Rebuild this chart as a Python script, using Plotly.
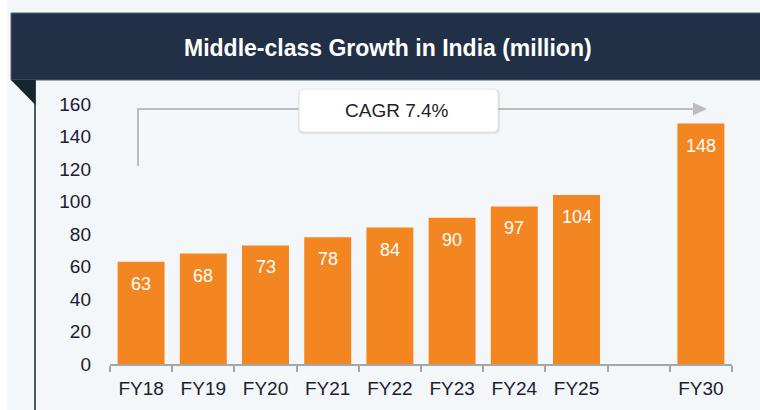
import plotly.graph_objects as go

categories = ["FY18", "FY19", "FY20", "FY21", "FY22", "FY23", "FY24", "FY25", " ", "FY30"]
values = [63, 68, 73, 78, 84, 90, 97, 104, None, 148]
y_ticks = [0, 20, 40, 60, 80, 100, 120, 140, 160]
title_text = "Middle-class Growth in India (million)"
cagr_text = "CAGR 7.4%"

W, H = 760, 410
L, R, T, B = 110, 28, 104, 46
PW, PH = W - L - R, H - T - B


def px(x):
    return (x - L) / PW


def py(y):
    return (H - B - y) / PH


def rpath(x0, y0, x1, y1, r):
    pts = [
        f"M{px(x0 + r)},{py(y0)}",
        f"L{px(x1 - r)},{py(y0)}",
        f"Q{px(x1)},{py(y0)} {px(x1)},{py(y0 + r)}",
        f"L{px(x1)},{py(y1 - r)}",
        f"Q{px(x1)},{py(y1)} {px(x1 - r)},{py(y1)}",
        f"L{px(x0 + r)},{py(y1)}",
        f"Q{px(x0)},{py(y1)} {px(x0)},{py(y1 - r)}",
        f"L{px(x0)},{py(y0 + r)}",
        f"Q{px(x0)},{py(y0)} {px(x0 + r)},{py(y0)}",
        "Z",
    ]
    return " ".join(pts)


ORANGE = "#F38620"
PANEL = "#F4F7F9"
NAVY = "#213047"
DARK = "#17262A"
GREY = "#BDBDBD"
TXT = "#1B2030"
FONT = "Liberation Sans, Arial, sans-serif"

fig = go.Figure()
fig.add_trace(go.Bar(
    x=categories, y=values, marker=dict(color=ORANGE, line=dict(width=0)),
    hoverinfo="skip",
))

shapes = []
# panel background
shapes.append(dict(type="rect", xref="paper", yref="paper", x0=px(7), x1=px(W + 5),
                   y0=py(H + 5), y1=py(0), fillcolor=PANEL, line=dict(width=0), layer="below"))
# banner
shapes.append(dict(type="rect", xref="paper", yref="paper", x0=px(11), x1=px(W + 5),
                   y0=py(80), y1=py(13), fillcolor=NAVY, line=dict(color="#50646F", width=1), layer="below"))
# folded corner
shapes.append(dict(type="path", xref="paper", yref="paper",
                   path=f"M{px(11)},{py(80)} L{px(35.5)},{py(80)} L{px(35.5)},{py(105)} Z",
                   fillcolor=DARK, line=dict(width=0)))
# vertical dark line
shapes.append(dict(type="line", xref="paper", yref="paper", x0=px(35), x1=px(35),
                   y0=py(80), y1=py(H + 5), line=dict(color=DARK, width=1.5)))
# connector line
shapes.append(dict(type="path", xref="paper", yref="paper",
                   path=f"M{px(138)},{py(166)} L{px(138)},{py(109)} L{px(694)},{py(109)}",
                   line=dict(color=GREY, width=2)))
# arrow head
shapes.append(dict(type="path", xref="paper", yref="paper",
                   path=f"M{px(693)},{py(102.5)} L{px(707)},{py(109)} L{px(693)},{py(115.5)} Z",
                   fillcolor=GREY, line=dict(width=0)))
# CAGR box shadow + box
shapes.append(dict(type="path", xref="paper", yref="paper", path=rpath(298, 89, 500, 134, 6),
                   fillcolor="rgba(0,0,0,0.08)", line=dict(width=0)))
shapes.append(dict(type="path", xref="paper", yref="paper", path=rpath(299, 89, 498, 132, 6),
                   fillcolor="white", line=dict(color="#E6E6E6", width=1)))

annotations = [
    dict(xref="paper", yref="paper", x=px(388), y=py(48), text=f"<b>{title_text}</b>",
         xanchor="center", yanchor="middle",
         showarrow=False, font=dict(family=FONT, size=23, color="white")),
    dict(xref="paper", yref="paper", x=px(397), y=py(110), text=cagr_text,
         xanchor="center", yanchor="middle",
         showarrow=False, font=dict(family=FONT, size=19, color="#222222")),
]
for c, v in zip(categories, values):
    if v is None:
        continue
    annotations.append(dict(x=c, y=v, xref="x", yref="y", text=str(v), showarrow=False,
                            xanchor="center", yanchor="middle",
                            yshift=-22, font=dict(family=FONT, size=18, color="white")))

fig.update_layout(
    width=W, height=H,
    margin=dict(l=L, r=R, t=T, b=B),
    paper_bgcolor="white", plot_bgcolor="rgba(0,0,0,0)",
    bargap=0.245, showlegend=False,
    shapes=shapes, annotations=annotations,
    font=dict(family=FONT, color=TXT),
)
fig.update_xaxes(
    type="category", categoryorder="array", categoryarray=categories,
    range=[-0.5, len(categories) - 0.5],
    showline=True, linecolor="#A6A6A6", linewidth=1.5,
    ticks="outside", tickson="boundaries", ticklen=6, tickcolor="#A6A6A6", tickwidth=1.5,
    showgrid=False, tickfont=dict(family=FONT, size=19, color=TXT), ticklabelstandoff=6,
)
fig.update_yaxes(
    range=[0, 160], tickvals=y_ticks, showgrid=False, zeroline=False, showline=False,
    ticks="", tickfont=dict(family=FONT, size=19, color=TXT), ticklabelstandoff=18,
)

fig.write_html("out.html", config={"displayModeBar": False},
               post_script="document.body.style.margin='0';")
